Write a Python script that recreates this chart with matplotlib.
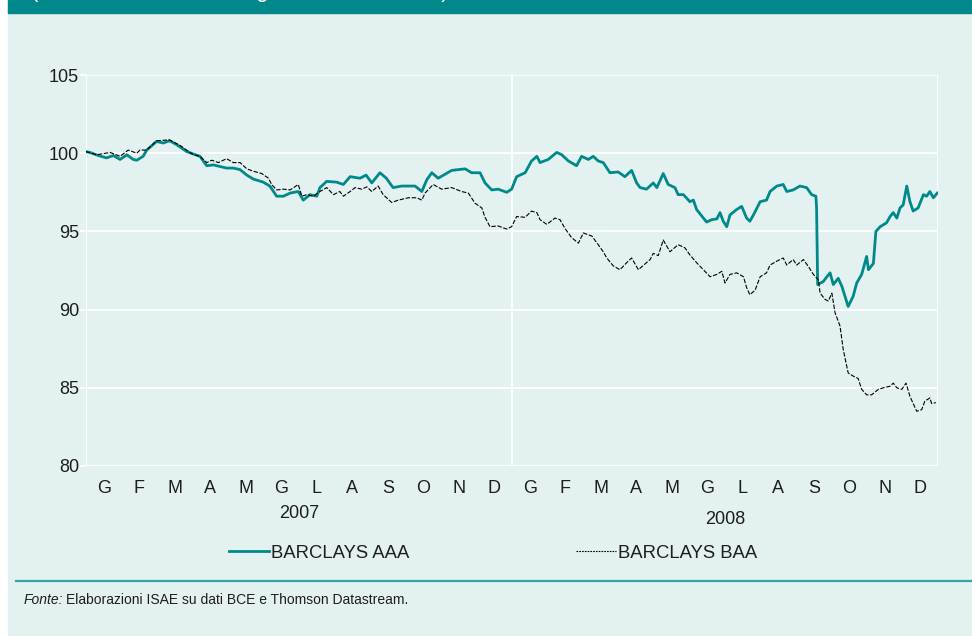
import matplotlib.pyplot as plt
from matplotlib.lines import Line2D
from matplotlib.patches import Rectangle
from matplotlib.ticker import FixedLocator
import matplotlib.transforms as mtransforms

plt.rcParams['font.family'] = ['Liberation Sans', 'DejaVu Sans']

# posizione in mesi dal 1 gennaio 2007
aaa_x = [0.0, 0.11, 0.35, 0.58, 0.77, 0.96, 1.15, 1.33, 1.43, 1.61, 1.71, 1.99, 2.18, 2.35, 2.55,
         2.84, 3.21, 3.40, 3.59, 3.77, 3.96, 4.15, 4.34, 4.53, 4.71, 4.99, 5.18, 5.37, 5.56, 5.75,
         5.98, 6.12, 6.31, 6.50, 6.59, 6.78, 7.06, 7.25, 7.44, 7.72, 7.89, 8.05, 8.28, 8.46, 8.65,
         8.89, 9.27, 9.46, 9.60, 9.74, 9.92, 10.30, 10.68, 10.86, 11.10, 11.24, 11.43, 11.61, 11.85,
         11.99, 12.13, 12.37, 12.55, 12.70, 12.79, 13.02, 13.26, 13.40, 13.59, 13.82, 13.96, 14.15,
         14.29, 14.43, 14.57, 14.76, 14.99, 15.18, 15.37, 15.51, 15.61, 15.79, 15.98, 16.08, 16.26,
         16.40, 16.59, 16.68, 16.83, 17.01, 17.11, 17.20, 17.39, 17.48, 17.63, 17.77, 17.86, 17.95,
         18.05, 18.14, 18.33, 18.47, 18.61, 18.70, 18.80, 18.99, 19.17, 19.27, 19.46, 19.64, 19.74,
         19.92, 20.11, 20.30, 20.44, 20.56, 20.58, 20.61, 20.77, 20.87, 20.96, 21.05, 21.19, 21.29,
         21.47, 21.61, 21.71, 21.85, 21.99, 22.04, 22.18, 22.25, 22.37, 22.55, 22.65, 22.74, 22.84,
         22.93, 23.02, 23.12, 23.21, 23.30, 23.44, 23.59, 23.68, 23.77, 23.87, 23.98]
aaa_y = [100.1, 100.05, 99.85, 99.7, 99.85, 99.6, 99.9, 99.6, 99.55, 99.8, 100.2, 100.75, 100.65, 100.8, 100.55,
         100.1, 99.8, 99.2, 99.25, 99.15, 99.05, 99.05, 98.95, 98.6, 98.35, 98.15, 97.9, 97.25, 97.25, 97.45,
         97.55, 97.0, 97.35, 97.25, 97.8, 98.2, 98.15, 98.0, 98.5, 98.4, 98.6, 98.1, 98.75, 98.4, 97.8,
         97.9, 97.9, 97.55, 98.3, 98.75, 98.4, 98.9, 99.0, 98.75, 98.75, 98.1, 97.65, 97.7, 97.5,
         97.7, 98.5, 98.75, 99.5, 99.8, 99.4, 99.6, 100.05, 99.9, 99.5, 99.2, 99.8, 99.6,
         99.8, 99.5, 99.4, 98.75, 98.8, 98.5, 98.9, 98.1, 97.8, 97.7, 98.1, 97.8, 98.7,
         98.0, 97.8, 97.35, 97.35, 96.9, 97.0, 96.4, 95.85, 95.6, 95.75, 95.8, 96.2, 95.65,
         95.3, 96.05, 96.4, 96.6, 95.85, 95.65, 96.05, 96.9, 97.0, 97.55, 97.9, 98.0, 97.55,
         97.65, 97.9, 97.8, 97.35, 97.25, 96.5, 91.6, 91.8, 92.1, 92.35, 91.6, 92.0, 91.5,
         90.2, 90.85, 91.7, 92.25, 93.4, 92.55, 92.95, 95.0, 95.3, 95.55, 95.95, 96.2, 95.85,
         96.5, 96.7, 97.9, 96.9, 96.3, 96.5, 97.35, 97.25, 97.55, 97.15, 97.45]

baa_x = [0.0, 0.30, 0.68, 0.96, 1.19, 1.43, 1.52, 1.71, 1.99, 2.35, 2.65, 3.02, 3.21, 3.40, 3.54,
         3.73, 3.96, 4.15, 4.34, 4.53, 4.71, 4.95, 5.14, 5.23, 5.37, 5.56, 5.75, 5.98, 6.08, 6.22,
         6.40, 6.59, 6.78, 6.97, 7.15, 7.25, 7.44, 7.58, 7.77, 7.91, 8.05, 8.23, 8.37, 8.61, 8.80,
         9.08, 9.32, 9.46, 9.55, 9.78, 10.02, 10.30, 10.58, 10.77, 10.96, 11.15, 11.24, 11.38, 11.61,
         11.85, 11.99, 12.13, 12.37, 12.55, 12.70, 12.79, 12.98, 13.21, 13.35, 13.49, 13.68, 13.87,
         14.01, 14.25, 14.43, 14.57, 14.67, 14.85, 15.04, 15.23, 15.37, 15.56, 15.79, 15.89, 15.98,
         16.12, 16.26, 16.45, 16.68, 16.87, 17.01, 17.20, 17.39, 17.58, 17.77, 17.91, 18.00, 18.14,
         18.33, 18.52, 18.61, 18.70, 18.85, 18.99, 19.17, 19.27, 19.46, 19.64, 19.74, 19.92, 20.02,
         20.21, 20.35, 20.49, 20.63, 20.68, 20.82, 20.91, 21.01, 21.10, 21.24, 21.33, 21.47, 21.61,
         21.75, 21.85, 21.99, 22.13, 22.32, 22.46, 22.65, 22.74, 22.84, 22.98, 23.10, 23.21, 23.40,
         23.54, 23.63, 23.77, 23.82, 23.94]
baa_y = [100.1, 99.9, 100.05, 99.8, 100.2, 100.0, 100.2, 100.2, 100.8, 100.85, 100.5, 99.9, 99.8, 99.4, 99.55,
         99.4, 99.65, 99.4, 99.4, 99.0, 98.85, 98.7, 98.4, 98.0, 97.65, 97.7, 97.65, 98.0, 97.25, 97.35,
         97.25, 97.55, 97.8, 97.35, 97.55, 97.25, 97.55, 97.8, 97.7, 97.85, 97.55, 97.9, 97.35, 96.85, 97.0,
         97.15, 97.15, 97.0, 97.45, 98.0, 97.7, 97.8, 97.55, 97.45, 96.8, 96.5, 95.9, 95.3, 95.35,
         95.15, 95.3, 95.95, 95.9, 96.3, 96.2, 95.75, 95.45, 95.85, 95.75, 95.2, 94.6, 94.25,
         94.9, 94.7, 94.15, 93.7, 93.3, 92.8, 92.55, 93.0, 93.3, 92.55, 93.0, 93.2, 93.6,
         93.45, 94.45, 93.7, 94.15, 93.95, 93.5, 93.0, 92.55, 92.1, 92.25, 92.45, 91.7, 92.25,
         92.35, 92.1, 91.4, 90.95, 91.25, 92.1, 92.35, 92.85, 93.1, 93.3, 92.85, 93.2, 92.85,
         93.2, 92.75, 92.25, 91.9, 91.05, 90.65, 90.55, 91.05, 89.8, 88.95, 87.45, 85.95, 85.75,
         85.6, 84.9, 84.55, 84.55, 84.9, 85.0, 85.1, 85.3, 85.0, 84.9, 85.3, 84.45, 83.5,
         83.6, 84.15, 84.35, 84.0, 84.05]

mesi = ['G', 'F', 'M', 'A', 'M', 'G', 'L', 'A', 'S', 'O', 'N', 'D'] * 2
anni = ['2007', '2008']
yticks = [80, 85, 90, 95, 100, 105]

bg = '#e3f1f1'
teal = '#00898a'
txt = '#1e1e1e'

fig = plt.figure(figsize=(9.72, 6.36), dpi=100, facecolor='white')
fig.add_artist(Rectangle((8 / 972, 0), 1, 1, transform=fig.transFigure, color=bg, zorder=-10))
fig.add_artist(Rectangle((8 / 972, 1 - 13 / 636), 1, 1, transform=fig.transFigure, color='#01888a', zorder=-9))
# titolo tagliato in alto (se ne vedono solo i discendenti)
fig.text(449 / 972, 1 + 2.5 / 636, '(numeri indice, base 2 gennaio 2007=100)', color='white',
         fontsize=16, ha='right', va='baseline')

ax = fig.add_axes([86 / 972, 1 - 466 / 636, 852 / 972, 391 / 636])
ax.set_facecolor(bg)
for s in ax.spines.values():
    s.set_visible(False)

ax.plot(aaa_x, aaa_y, color=teal, lw=2.0, label='BARCLAYS AAA', zorder=3)
ax.plot(baa_x, baa_y, color='black', lw=0.8, ls=(0, (4, 1.5)), label='BARCLAYS BAA', zorder=4)

ax.set_xlim(0, 24)
ax.set_ylim(80, 105)
ax.set_yticks(yticks)
ax.set_xticks([i + 0.5 for i in range(24)])
ax.set_xticklabels(mesi)
ax.xaxis.set_minor_locator(FixedLocator([0, 12, 24]))
ax.grid(True, axis='y', color='white', lw=1.3)
ax.grid(True, axis='x', which='minor', color='white', lw=1.3)
ax.tick_params(axis='y', length=4, width=1.3, color='white', labelsize=13, pad=1, labelcolor=txt)
ax.tick_params(axis='x', which='both', length=0, labelsize=13, pad=10, labelcolor=txt)

tr = mtransforms.blended_transform_factory(ax.transData, ax.transAxes)
ax.text(6, -48 / 391, anni[0], transform=tr, ha='center', va='center', fontsize=13, color=txt)
ax.text(18, -54 / 391, anni[1], transform=tr, ha='center', va='center', fontsize=13, color=txt)

leg = fig.legend(loc='center', bbox_to_anchor=(493 / 972, 1 - 553 / 636), ncol=2, frameon=False,
                 handlelength=2.2, handletextpad=0.1, columnspacing=9.0, prop={'size': 13.3})
for t in leg.get_texts():
    t.set_color(txt)
leg.legend_handles[1].set_linestyle((0, (1.5, 1)))

fig.add_artist(Line2D([16 / 972, 1], [1 - 581 / 636] * 2, color='#3aa3a3', lw=1.6))
fonte = fig.text(24 / 972, 1 - 600 / 636, 'Fonte:', fontstyle='italic', fontsize=10,
                 va='center', color=txt)
fig.canvas.draw()
bb = fonte.get_window_extent()
fig.text((bb.x1 + 3) / 972, 1 - 600 / 636, 'Elaborazioni ISAE su dati BCE e Thomson Datastream.',
         fontsize=10, va='center', color=txt)

fig.savefig('out.png', dpi=100, facecolor=fig.get_facecolor())
